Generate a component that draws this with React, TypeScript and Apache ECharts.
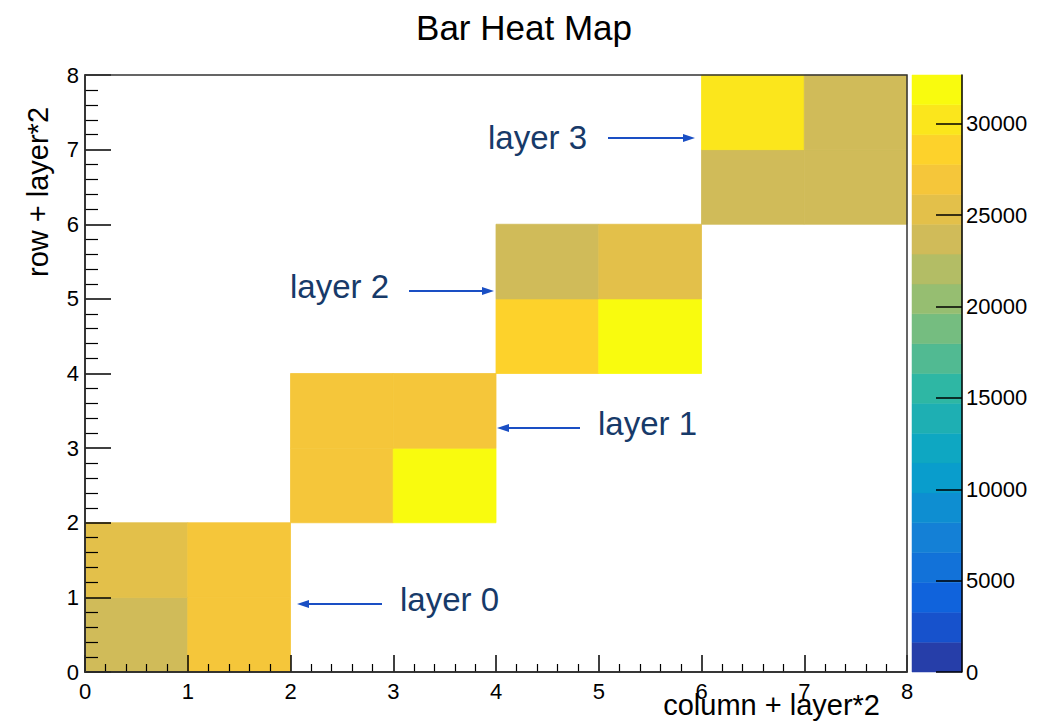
import React, { useEffect, useRef } from "react";
import * as echarts from "echarts";

// ---- data ----
const cellColumns = [0, 1, 0, 1, 2, 3, 2, 3, 4, 5, 4, 5, 6, 7, 6, 7];
const cellRows = [0, 0, 1, 1, 2, 2, 3, 3, 4, 4, 5, 5, 6, 6, 7, 7];
const cellValues = [
  23600, 27000, 25300, 27000,
  27000, 32670, 27000, 27000,
  28600, 32100, 23600, 25300,
  23600, 23600, 30200, 23600,
];
const axisTickLabels = [0, 1, 2, 3, 4, 5, 6, 7, 8];
const colorTicks = [0, 5000, 10000, 15000, 20000, 25000, 30000];
const zMin = 0;
const zMax = 32670;
const nContours = 20;
const layerLabels = ["layer 0", "layer 1", "layer 2", "layer 3"];

// ---- style (ROOT kBird palette) ----
const birdStops = [0, 0.125, 0.25, 0.375, 0.5, 0.625, 0.75, 0.875, 1];
const birdR = [0.2082, 0.0592, 0.078, 0.0232, 0.1802, 0.5301, 0.8186, 0.9956, 0.9764];
const birdG = [0.1664, 0.3599, 0.5041, 0.6419, 0.7178, 0.7492, 0.7328, 0.7862, 0.9832];
const birdB = [0.5293, 0.8684, 0.8385, 0.7914, 0.6425, 0.4662, 0.3499, 0.1968, 0.0539];

function birdColor(t: number): string {
  let k = 0;
  while (k < birdStops.length - 2 && t > birdStops[k + 1]) k++;
  const f = (t - birdStops[k]) / (birdStops[k + 1] - birdStops[k]);
  const c = (a: number[]) => Math.round(255 * (a[k] + f * (a[k + 1] - a[k])));
  return `rgb(${c(birdR)},${c(birdG)},${c(birdB)})`;
}

const FONT = "'Liberation Sans', Arial, Helvetica, sans-serif";
const ANNOT_COLOR = "#173a69";
const ARROW_COLOR = "#1a4fc4";

// annotation placement (pixels): text left, text middle y, arrow from, arrow to, arrow y
const annotPos = [
  { tx: 400, ty: 599, ax1: 382, ax2: 297, ay: 604 },
  { tx: 598, ty: 423, ax1: 580, ax2: 497, ay: 428 },
  { tx: 290, ty: 286, ax1: 409, ax2: 494, ay: 291 },
  { tx: 488, ty: 137, ax1: 608, ax2: 695, ay: 138 },
];

export default function App() {
  const ref = useRef<HTMLDivElement>(null);

  useEffect(() => {
    document.body.style.margin = "0";
    if (!ref.current) return;
    const chart = echarts.init(ref.current, undefined, { renderer: "svg" });

    const step = (zMax - zMin) / nContours;
    const pieces: any[] = [];
    const bands: number[][] = [];
    for (let i = 0; i < nContours; i++) {
      const lo = zMin + i * step;
      const hi = i === nContours - 1 ? zMax + 1 : zMin + (i + 1) * step;
      pieces.push({ gte: lo, lt: hi, color: birdColor((i + 0.99) / nContours) });
      bands.push([lo, Math.min(hi, zMax), (lo + Math.min(hi, zMax)) / 2]);
    }

    const cellData = cellValues.map((v, i) => [cellColumns[i], cellRows[i], v]);

    const graphics: any[] = [];
    layerLabels.forEach((label, i) => {
      const p = annotPos[i];
      graphics.push({
        type: "text",
        x: p.tx,
        y: p.ty,
        z: 100,
        style: {
          text: label,
          fill: ANNOT_COLOR,
          fontSize: 33,
          fontFamily: FONT,
          align: "left",
          verticalAlign: "middle",
        },
      });
      const dir = p.ax2 > p.ax1 ? 1 : -1;
      graphics.push({
        type: "line",
        z: 100,
        shape: { x1: p.ax1, y1: p.ay, x2: p.ax2 - dir * 10, y2: p.ay },
        style: { stroke: ARROW_COLOR, lineWidth: 2 },
      });
      graphics.push({
        type: "polygon",
        z: 100,
        shape: {
          points: [
            [p.ax2, p.ay],
            [p.ax2 - dir * 12, p.ay - 4],
            [p.ax2 - dir * 12, p.ay + 4],
          ],
        },
        style: { fill: ARROW_COLOR },
      });
    });
    graphics.push({
      type: "text",
      x: 880,
      y: 705,
      z: 100,
      style: {
        text: "column + layer*2",
        fill: "#000",
        fontSize: 29,
        fontFamily: FONT,
        align: "right",
        verticalAlign: "middle",
      },
    });
    graphics.push({
      type: "text",
      x: 38,
      y: 192,
      rotation: Math.PI / 2,
      z: 100,
      style: {
        text: "row + layer*2",
        fill: "#000",
        fontSize: 29,
        fontFamily: FONT,
        align: "center",
        verticalAlign: "middle",
      },
    });

    const mainAxisCommon = (tickLen: number, minorLen: number) => ({
      type: "value" as const,
      min: axisTickLabels[0],
      max: axisTickLabels[axisTickLabels.length - 1],
      interval: 1,
      z: 5,
      axisLine: { show: true, onZero: false, lineStyle: { color: "#000", width: 1.5 } },
      axisTick: { show: true, inside: true, length: tickLen, lineStyle: { color: "#000", width: 1.5 } },
      minorTick: { show: true, splitNumber: 5, length: minorLen, lineStyle: { color: "#000", width: 1.2 } },
      splitLine: { show: false },
      minorSplitLine: { show: false },
    });

    chart.setOption({
      animation: false,
      backgroundColor: "#fff",
      textStyle: { fontFamily: FONT },
      title: {
        text: "Bar Heat Map",
        left: "center",
        top: 5,
        textStyle: { fontSize: 35, fontWeight: "normal", color: "#000", fontFamily: FONT },
      },
      grid: [
        {
          left: 85,
          top: 75,
          width: 822,
          height: 597,
          show: true,
          z: 10,
          borderColor: "#333",
          borderWidth: 1.5,
          backgroundColor: "transparent",
        },
        { left: 912, top: 75, width: 50, height: 597 },
      ],
      xAxis: [
        {
          ...mainAxisCommon(17, 8),
          gridIndex: 0,
          axisLabel: { fontSize: 22, color: "#000", margin: 8, fontFamily: FONT },
        },
        { type: "value", gridIndex: 1, min: 0, max: 1, show: false },
      ],
      yAxis: [
        {
          ...mainAxisCommon(26, 13),
          gridIndex: 0,
          axisLabel: { fontSize: 22, color: "#000", margin: 6, fontFamily: FONT },
        },
        {
          type: "value",
          gridIndex: 1,
          position: "right",
          min: zMin,
          max: zMax,
          z: 5,
          axisLine: { show: true, onZero: false, lineStyle: { color: "#000", width: 1.5 } },
          axisTick: {
            show: true,
            inside: true,
            length: 26,
            customValues: colorTicks,
            lineStyle: { color: "#000", width: 1.5 },
          },
          axisLabel: {
            customValues: colorTicks,
            formatter: (v: number) => String(v),
            fontSize: 22,
            color: "#000",
            margin: 4,
            fontFamily: FONT,
          },
          splitLine: { show: false },
        },
      ],
      visualMap: {
        type: "piecewise",
        show: false,
        dimension: 2,
        seriesIndex: [0, 1],
        pieces,
      },
      series: [
        {
          type: "custom",
          xAxisIndex: 0,
          yAxisIndex: 0,
          z: 1,
          data: cellData,
          encode: { x: 0, y: 1 },
          renderItem: (params: any, api: any) => {
            const x = api.value(0);
            const y = api.value(1);
            const p0 = api.coord([x, y + 1]);
            const p1 = api.coord([x + 1, y]);
            const color = api.visual("color");
            return {
              type: "rect",
              shape: { x: p0[0], y: p0[1], width: p1[0] - p0[0], height: p1[1] - p0[1] },
              style: { fill: color, stroke: color, lineWidth: 0.8 },
            };
          },
        },
        {
          type: "custom",
          xAxisIndex: 1,
          yAxisIndex: 1,
          z: 1,
          data: bands,
          encode: { y: [0, 1] },
          renderItem: (params: any, api: any) => {
            const lo = api.value(0);
            const hi = api.value(1);
            const p0 = api.coord([0, hi]);
            const p1 = api.coord([1, lo]);
            const color = api.visual("color");
            return {
              type: "rect",
              shape: { x: p0[0], y: p0[1], width: p1[0] - p0[0], height: p1[1] - p0[1] },
              style: { fill: color, stroke: color, lineWidth: 0.5 },
            };
          },
        },
      ],
      graphic: graphics,
    });

    return () => chart.dispose();
  }, []);

  return <div ref={ref} style={{ width: 1048, height: 721 }} />;
}
